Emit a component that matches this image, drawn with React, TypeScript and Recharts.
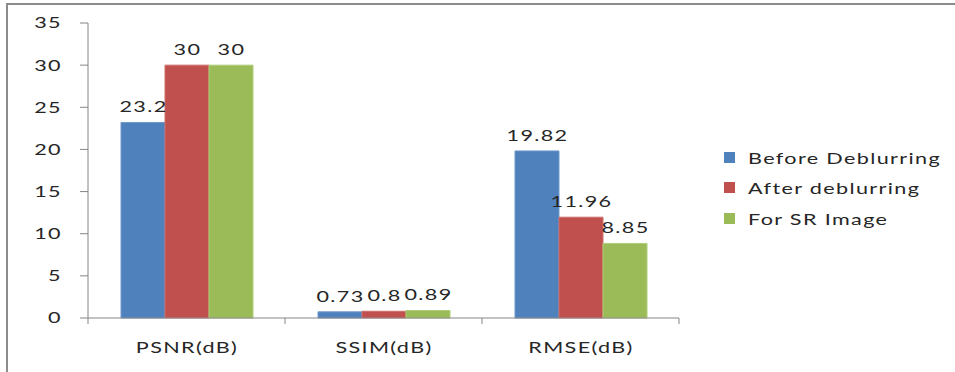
import React from "react";
import { BarChart, Bar, XAxis, YAxis, LabelList } from "recharts";

const categories = ["PSNR(dB)", "SSIM(dB)", "RMSE(dB)"];
const beforeDeblurring = [23.2, 0.73, 19.82];
const afterDeblurring = [30, 0.8, 11.96];
const forSRImage = [30, 0.89, 8.85];
const yTicks = [0, 5, 10, 15, 20, 25, 30, 35];

const SERIES = [
  { key: "before", name: "Before Deblurring", color: "#4F81BD", stroke: "#6f97c9" },
  { key: "after", name: "After deblurring", color: "#C0504D", stroke: "#cc6e6b" },
  { key: "sr", name: "For SR Image", color: "#9BBB59", stroke: "#b0cc78" },
];

const data = categories.map((name, i) => ({
  name,
  before: beforeDeblurring[i],
  after: afterDeblurring[i],
  sr: forSRImage[i],
}));

const FONT = "Lato, 'Open Sans', sans-serif";
const TEXT = "#262626";
const AXIS = "#868686";
const FS = 16;
const LS = 1;
const SX = 1.35; // the original text is stretched sideways

const W = 955;
const H = 372;
const LEFT = 88;
const RIGHT = 276;
const BAND = (W - LEFT - RIGHT) / categories.length;

function WideText({ x, y, anchor, children }: any) {
  return (
    <text
      x={x}
      y={y}
      transform={`translate(${x} ${y}) scale(${SX} 1) translate(${-x} ${-y})`}
      textAnchor={anchor}
      fill={TEXT}
      fontSize={FS}
      letterSpacing={LS}
      fontFamily={FONT}
    >
      {children}
    </text>
  );
}

function CategoryTick(props: any) {
  const { x, y, payload, index } = props;
  const left = x - BAND / 2;
  return (
    <g>
      <line x1={left} y1={y} x2={left} y2={y + 6} stroke={AXIS} />
      {index === categories.length - 1 && (
        <line x1={left + BAND} y1={y} x2={left + BAND} y2={y + 6} stroke={AXIS} />
      )}
      <WideText x={x + LS / 2} y={y + 35} anchor="middle">
        {payload.value}
      </WideText>
    </g>
  );
}

function ValueTick(props: any) {
  const { x, y, payload } = props;
  return (
    <WideText x={x} y={y + 5.5} anchor="end">
      {payload.value}
    </WideText>
  );
}

function BarValue(props: any) {
  const { x, y, width, value } = props;
  return (
    <WideText x={x + width / 2 + LS / 2} y={y - 10} anchor="middle">
      {value}
    </WideText>
  );
}

export default function App() {
  return (
    <div style={{ position: "absolute", left: 0, top: 0, width: W, height: H, background: "#fff", overflow: "hidden" }}>
      <div style={{ position: "absolute", left: 6, top: 3, width: W, height: 2, background: "#8c8c8c" }} />
      <div style={{ position: "absolute", left: 6, top: 3, width: 2, height: H, background: "#8c8c8c" }} />
      <BarChart
        width={W}
        height={H}
        data={data}
        margin={{ top: 23, right: RIGHT, bottom: 0, left: 0 }}
        barCategoryGap={33}
        barGap={0}
      >
        <YAxis
          width={LEFT}
          domain={[0, 35]}
          ticks={yTicks}
          interval={0}
          axisLine={{ stroke: AXIS }}
          tickLine={{ stroke: AXIS }}
          tickSize={8}
          tickMargin={18}
          tick={<ValueTick />}
        />
        <XAxis
          dataKey="name"
          height={54}
          axisLine={{ stroke: AXIS }}
          tickLine={false}
          tickSize={0}
          tickMargin={0}
          interval={0}
          tick={<CategoryTick />}
        />
        {SERIES.map((s) => (
          <Bar
            key={s.key}
            dataKey={s.key}
            name={s.name}
            fill={s.color}
            stroke={s.stroke}
            strokeWidth={1}
            isAnimationActive={false}
          >
            <LabelList dataKey={s.key} content={<BarValue />} />
          </Bar>
        ))}
      </BarChart>
      <div style={{ position: "absolute", left: 724, top: 142, fontFamily: FONT }}>
        {SERIES.map((s) => (
          <div key={s.key} style={{ display: "flex", alignItems: "center", height: 30.5 }}>
            <div style={{ width: 11, height: 11, background: s.color, marginRight: 13, flex: "none" }} />
            <span
              style={{
                display: "inline-block",
                fontSize: FS,
                color: TEXT,
                letterSpacing: LS,
                whiteSpace: "nowrap",
                transform: `scaleX(${SX})`,
                transformOrigin: "left center",
              }}
            >
              {s.name}
            </span>
          </div>
        ))}
      </div>
    </div>
  );
}
